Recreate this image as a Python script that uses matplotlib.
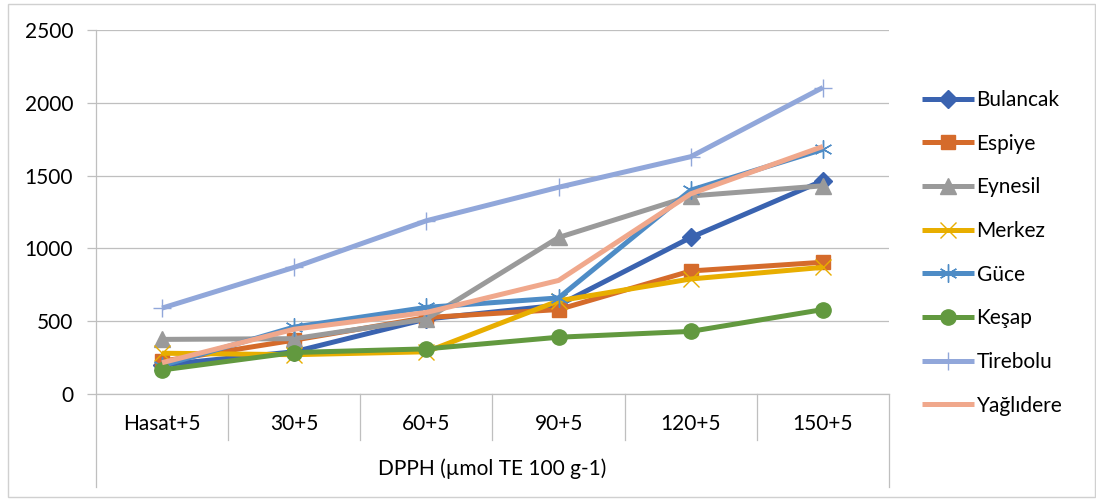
import matplotlib
matplotlib.use("Agg")
import matplotlib.pyplot as plt
from matplotlib.patches import Rectangle
from matplotlib.lines import Line2D
import matplotlib.transforms as mtransforms

plt.rcParams['font.family'] = ['Lato', 'DejaVu Sans']

# Storage periods (category axis) and the group caption underneath
periods = ["Hasat+5", "30+5", "60+5", "90+5", "120+5", "150+5"]
group_label = "DPPH (µmol TE 100 g-1)"

# DPPH values per location
bulancak = [200, 290, 515, 610, 1075, 1465]
espiye = [225, 370, 525, 580, 845, 905]
eynesil = [375, 380, 515, 1075, 1360, 1430]
merkez = [280, 270, 290, 640, 790, 870]
guce = [195, 460, 595, 660, 1400, 1680]
kesap = [165, 285, 310, 390, 430, 580]
tirebolu = [590, 870, 1190, 1420, 1630, 2105]
yaglidere = [215, 445, 560, 780, 1375, 1700]

series = [
    ("Bulancak", bulancak, "#3A63B0", "D", 9),
    ("Espiye", espiye, "#D56B2B", "s", 10),
    ("Eynesil", eynesil, "#9A9A9A", "^", 11),
    ("Merkez", merkez, "#E8AE00", "x", 12),
    ("Güce", guce, "#4E8CC6", (6, 2, 0), 13),
    ("Keşap", kesap, "#62993F", "o", 11),
    ("Tirebolu", tirebolu, "#91A7DA", "+", 13),
    ("Yağlıdere", yaglidere, "#F0A88C", "None", 0),
]

FS = 15
W, H = 1096, 499
fig = plt.figure(figsize=(W / 100, H / 100), dpi=100)
ax = fig.add_axes([96 / W, 1 - 394 / H, (889 - 96) / W, (394 - 30) / H])

x = list(range(len(periods)))
handles = []
for name, vals, color, marker, ms in series:
    line, = ax.plot(x, vals, color=color, lw=3.6, marker=marker, ms=ms,
                    mfc=color, mec=color, mew=1.0, solid_joinstyle="round",
                    solid_capstyle="butt", label=name, clip_on=False, zorder=3)
    handles.append(line)

grid_c = "#BFBFBF"
ax.set_ylim(0, 2500)
ax.set_xlim(-0.5, len(periods) - 0.5)
ax.set_yticks([0, 500, 1000, 1500, 2000, 2500])
ax.yaxis.grid(True, color=grid_c, lw=0.9)
ax.set_axisbelow(True)
ax.tick_params(axis="y", length=6.5, width=0.9, color=grid_c, pad=10,
               labelsize=FS, labelcolor="#000000")
ax.set_xticks([])
for side in ("top", "right"):
    ax.spines[side].set_visible(False)
for side in ("left", "bottom"):
    ax.spines[side].set_color(grid_c)
    ax.spines[side].set_linewidth(0.9)

# Two-level category axis drawn beneath the plot
trans = mtransforms.blended_transform_factory(ax.transData, ax.transAxes)
px = 1.0 / (394 - 30)
for i, lab in enumerate(periods):
    ax.text(i, -30 * px, lab, transform=trans, ha="center", va="center",
            fontsize=FS, color="#000000")
for b in [i - 0.5 for i in range(len(periods) + 1)]:
    outer = b in (-0.5, len(periods) - 0.5)
    y_end = -(487 - 394) * px if outer else -(440 - 394) * px
    ax.add_line(Line2D([b, b], [0, y_end], transform=trans, color=grid_c,
                       lw=0.9, clip_on=False))
ax.text((len(periods) - 1) / 2, -(469 - 394) * px, group_label, transform=trans,
        ha="center", va="center", fontsize=FS, color="#000000")

# Legend on the right
leg = fig.legend(handles=handles, loc="upper left",
                 bbox_to_anchor=(922 / W, 1 - 90 / H), frameon=False,
                 fontsize=FS, handlelength=2.5, handletextpad=0.12,
                 labelspacing=1.135, borderaxespad=0, borderpad=0)

# Chart border
fig.add_artist(Rectangle((8 / W, 2 / H), (1095 - 8) / W, (495 - 2) / H,
                         transform=fig.transFigure, fill=False,
                         ec="#D0D0D0", lw=1.0))

fig.savefig("out.png", dpi=100, facecolor="white")
